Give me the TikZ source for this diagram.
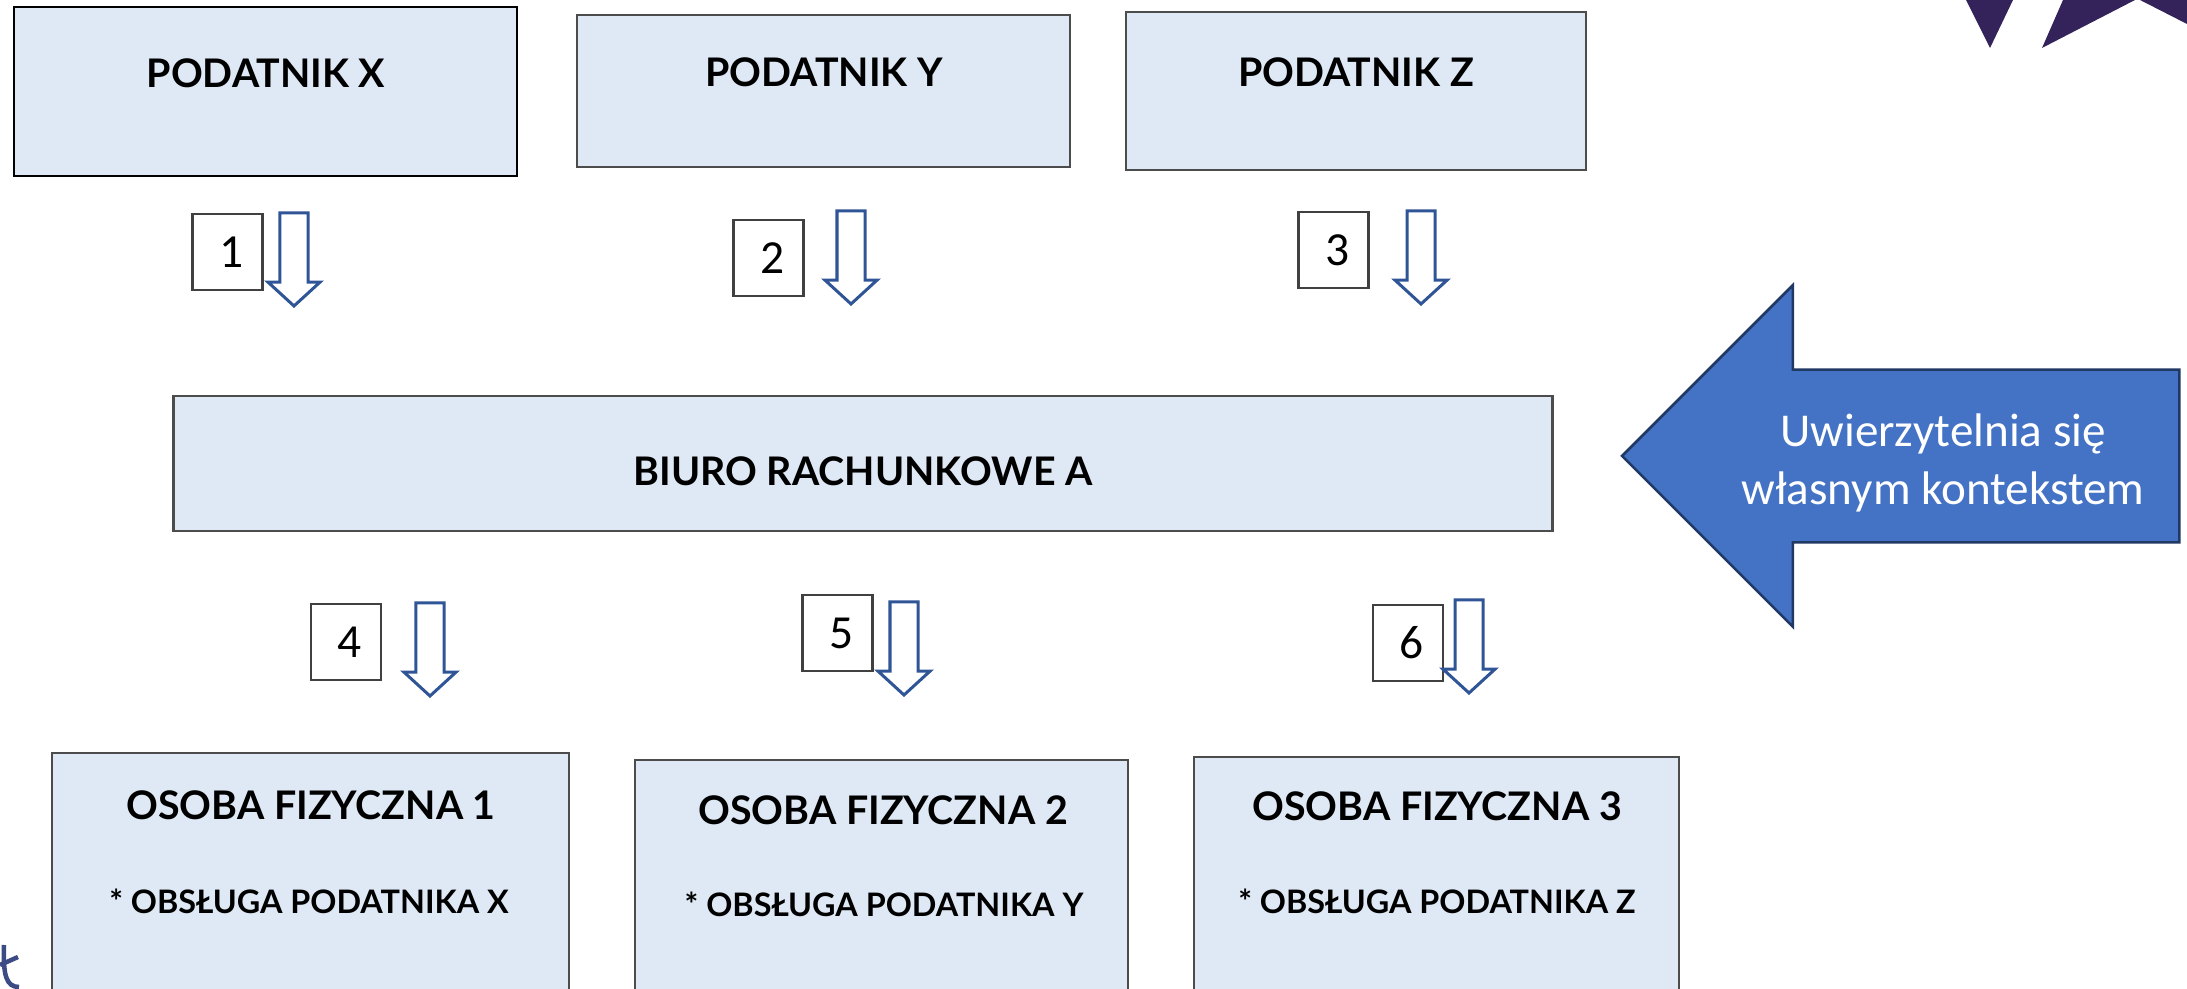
\documentclass[tikz,border=0pt]{standalone}
\usepackage{fontspec}
\setmainfont{Lato}
\newfontfamily\calibrifont{Carlito}
\usepackage{tikz}
\usetikzlibrary{shapes.arrows}
\definecolor{boxfill}{HTML}{DEE9F5}
\definecolor{arrowline}{HTML}{2F5597}
\definecolor{bigfill}{HTML}{4472C4}
\definecolor{bigline}{HTML}{1F3864}
\definecolor{logodark}{HTML}{33235A}
\definecolor{logoblue}{HTML}{3D4B85}
\tikzset{
    firmbox/.style={draw=black!70,fill=boxfill,line width=0.025cm,outer sep=0pt,inner sep=0pt},
    firmtext/.style={font=\fontsize{11.2}{13}\selectfont\bfseries},
    smalltext/.style={font=\fontsize{9.2}{11}\selectfont\bfseries},
    numbox/.style={draw=black!75,fill=white,line width=0.025cm,minimum width=0.7cm,minimum height=0.76cm,
        inner sep=0pt,outer sep=0pt,font=\calibrifont\fontsize{13.5}{15}\selectfont,
        execute at begin node={\hspace{0.08cm}}},
    downarrow/.style={single arrow,draw=arrowline,fill=white,line width=0.03cm,shape border rotate=270,
        inner sep=0.125cm,outer sep=0pt,minimum height=0.93cm,minimum width=0.49cm,
        single arrow head extend=0.12cm,single arrow tip angle=95,anchor=tip},
    bigarrow/.style={single arrow,draw=bigline,fill=bigfill,line width=0.025cm,shape border rotate=180,
        inner sep=0.85cm,outer sep=0pt,minimum height=5.57cm,minimum width=3.39cm,
        single arrow head extend=0.845cm,single arrow tip angle=90,anchor=tip}
}
\begin{document}
\begin{tikzpicture}[x=0.01cm,y=-0.01cm]
            \path[use as bounding box,clip] (0,0) rectangle (2187,989);
            \fill[logodark] (1966,0) -- (1990,48) -- (2013,0) -- cycle;
            \fill[logodark] (2063,0) -- (2042,48) -- (2135,0) -- cycle;
            \fill[logodark] (2140,0) -- (2187,24) -- (2187,0) -- cycle;
            \draw[logoblue,line width=0.045cm] (4,945) .. controls (3,975) and (6,987) .. (19,987);
            \draw[logoblue,line width=0.045cm] (0,965) -- (18,957);
            \node[firmbox,draw=black,minimum width=5.03cm,minimum height=1.69cm] (podx) at (265.5,91.5) {};
            \node[firmbox,minimum width=4.93cm,minimum height=1.52cm] (pody) at (823.5,91) {};
            \node[firmbox,minimum width=4.60cm,minimum height=1.58cm] (podz) at (1356,91) {};
            \node[firmbox,minimum width=13.78cm,minimum height=1.35cm] (biuro) at (863,463.5) {};
            \node[firmbox,minimum width=5.17cm,minimum height=2.60cm] (os1) at (310.5,883) {};
            \node[firmbox,minimum width=4.93cm,minimum height=2.60cm] (os2) at (881.5,890) {};
            \node[firmbox,minimum width=4.85cm,minimum height=2.60cm] (os3) at (1436.5,887) {};
            \node[firmtext] (podxtext) at (266,73) {PODATNIK X};
            \node[firmtext] (podytext) at (824,72) {PODATNIK Y};
            \node[firmtext] (podztext) at (1356,72) {PODATNIK Z};
            \node[firmtext] (biurotext) at (863,471) {BIURO RACHUNKOWE A};
            \node[firmtext] (os1text) at (311,805) {OSOBA FIZYCZNA 1};
            \node[firmtext] (os2text) at (883,810) {OSOBA FIZYCZNA 2};
            \node[firmtext] (os3text) at (1437,806) {OSOBA FIZYCZNA 3};
            \node[smalltext] (ob1text) at (309,901) {* OBSŁUGA PODATNIKA X};
            \node[smalltext] (ob2text) at (884,904) {* OBSŁUGA PODATNIKA Y};
            \node[smalltext] (ob3text) at (1437,901) {* OBSŁUGA PODATNIKA Z};
            \node[numbox] (num1) at (227.5,252) {\raisebox{-0.08cm}{1}};
            \node[numbox] (num2) at (768.5,258) {\raisebox{-0.11cm}{2}};
            \node[numbox] (num3) at (1333.5,250) {\raisebox{-0.06cm}{3}};
            \node[numbox] (num4) at (346,642) {4};
            \node[numbox] (num5) at (837.5,633) {5};
            \node[numbox] (num6) at (1408,643) {\raisebox{-0.2cm}{6}};
            \node[downarrow] (arr1) at (294,306) {};
            \node[downarrow] (arr2) at (851,304) {};
            \node[downarrow] (arr3) at (1421,304) {};
            \node[downarrow] (arr4) at (430,696) {};
            \node[downarrow] (arr5) at (904,695) {};
            \node[downarrow] (arr6) at (1469,693) {};
            \node[bigarrow] (auth) at (1622,456) {};
            \node[align=center,text=white,font=\calibrifont\fontsize{13.4}{16.4}\selectfont] (authtext) at (1943,463) {Uwierzytelnia się\\własnym kontekstem};
        \end{tikzpicture}
\end{document}
